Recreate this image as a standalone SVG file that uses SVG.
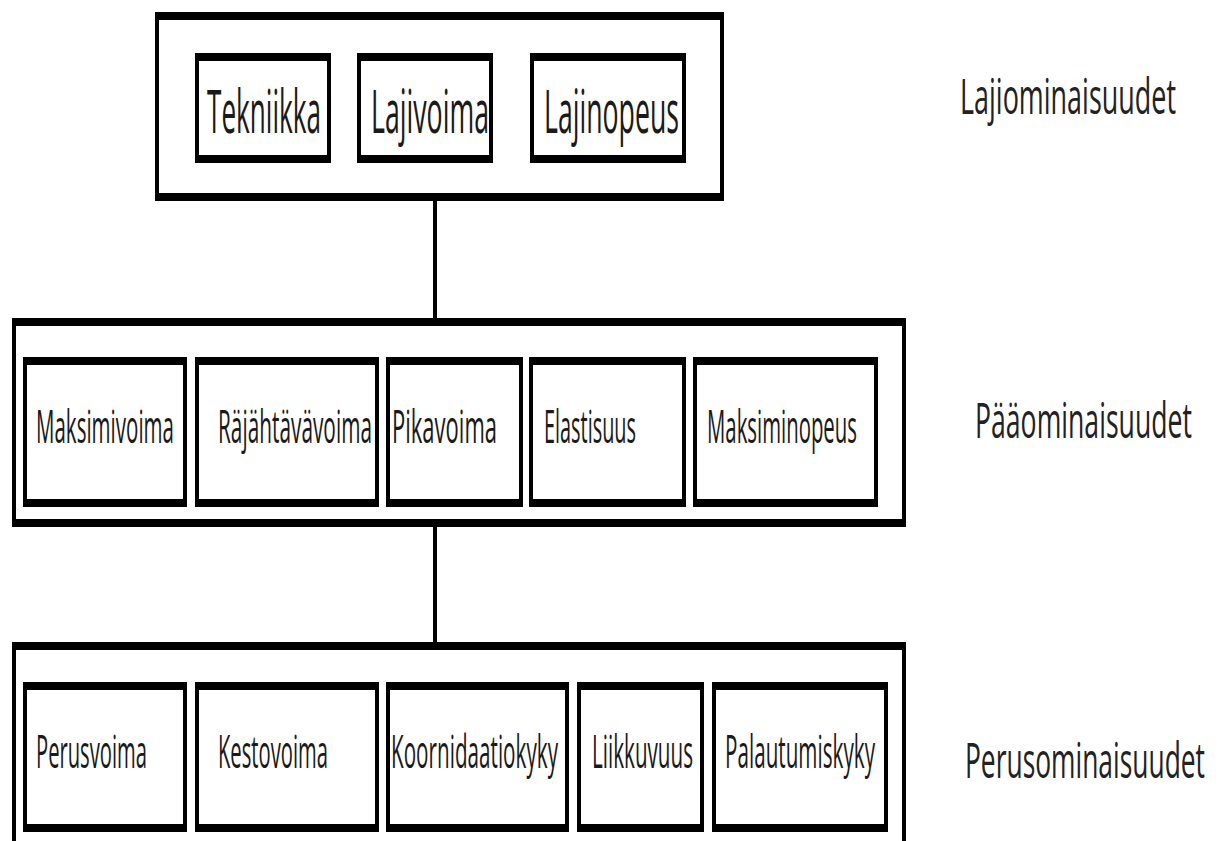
<svg xmlns="http://www.w3.org/2000/svg" width="1224" height="841" viewBox="0 0 1224 841">
<style>
.frame{fill:#000}
.fill{fill:#fff}
.t{font-family:"Open Sans","Liberation Sans",sans-serif;fill:#1a1a1a}
.r1{font-size:30px}
.r2{font-size:23px}
.lab{font-size:25px;fill:#222}
.con{stroke:#000;stroke-width:4;fill:none}
</style>
<rect width="1224" height="841" fill="#fff"/>
<g id="connectors">
<line class="con" x1="435" y1="200" x2="435" y2="319"/>
<line class="con" x1="435" y1="526" x2="435" y2="643"/>
</g>
<g id="lajiominaisuudet-box">
<rect class="frame" x="155" y="12" width="569" height="189"/>
<rect class="fill" x="159" y="20" width="561" height="173"/>
</g>
<g id="tekniikka">
<rect class="frame" x="195" y="53" width="136" height="110"/>
<rect class="fill" x="199" y="61" width="128" height="94"/>
<text class="t r1" transform="translate(207,133) scale(1,2)" textLength="114" lengthAdjust="spacingAndGlyphs">Tekniikka</text>
</g>
<g id="lajivoima">
<rect class="frame" x="357" y="53" width="136" height="110"/>
<rect class="fill" x="361" y="61" width="128" height="94"/>
<text class="t r1" transform="translate(371,133) scale(1,2)" textLength="118" lengthAdjust="spacingAndGlyphs">Lajivoima</text>
</g>
<g id="lajinopeus">
<rect class="frame" x="530" y="53" width="156" height="110"/>
<rect class="fill" x="534" y="61" width="148" height="94"/>
<text class="t r1" transform="translate(544,133) scale(1,2)" textLength="135" lengthAdjust="spacingAndGlyphs">Lajinopeus</text>
</g>
<g id="paaominaisuudet-box">
<rect class="frame" x="12" y="318" width="894" height="209"/>
<rect class="fill" x="16" y="326" width="886" height="193"/>
</g>
<g id="maksimivoima">
<rect class="frame" x="23" y="357" width="164" height="150"/>
<rect class="fill" x="27" y="365" width="156" height="134"/>
<text class="t r2" transform="translate(36,443) scale(1,2)" textLength="138" lengthAdjust="spacingAndGlyphs">Maksimivoima</text>
</g>
<g id="rajahtavavoima">
<rect class="frame" x="195" y="357" width="184" height="150"/>
<rect class="fill" x="199" y="365" width="176" height="134"/>
<text class="t r2" transform="translate(218,443) scale(1,2)" textLength="154" lengthAdjust="spacingAndGlyphs">Räjähtävävoima</text>
</g>
<g id="pikavoima">
<rect class="frame" x="386" y="357" width="137" height="150"/>
<rect class="fill" x="390" y="365" width="129" height="134"/>
<text class="t r2" transform="translate(392,443) scale(1,2)" textLength="105" lengthAdjust="spacingAndGlyphs">Pikavoima</text>
</g>
<g id="elastisuus">
<rect class="frame" x="529" y="357" width="157" height="150"/>
<rect class="fill" x="533" y="365" width="149" height="134"/>
<text class="t r2" transform="translate(544,443) scale(1,2)" textLength="92" lengthAdjust="spacingAndGlyphs">Elastisuus</text>
</g>
<g id="maksiminopeus">
<rect class="frame" x="693" y="357" width="185" height="150"/>
<rect class="fill" x="697" y="365" width="177" height="134"/>
<text class="t r2" transform="translate(707,443) scale(1,2)" textLength="150" lengthAdjust="spacingAndGlyphs">Maksiminopeus</text>
</g>
<g id="perusominaisuudet-box">
<rect class="frame" x="12" y="642" width="894" height="220"/>
<rect class="fill" x="16" y="650" width="886" height="220"/>
</g>
<g id="perusvoima">
<rect class="frame" x="23" y="682" width="164" height="150"/>
<rect class="fill" x="27" y="690" width="156" height="134"/>
<text class="t r2" transform="translate(36,768) scale(1,2)" textLength="111" lengthAdjust="spacingAndGlyphs">Perusvoima</text>
</g>
<g id="kestovoima">
<rect class="frame" x="195" y="682" width="184" height="150"/>
<rect class="fill" x="199" y="690" width="176" height="134"/>
<text class="t r2" transform="translate(218,768) scale(1,2)" textLength="110" lengthAdjust="spacingAndGlyphs">Kestovoima</text>
</g>
<g id="koornidaatiokyky">
<rect class="frame" x="386" y="682" width="183" height="150"/>
<rect class="fill" x="390" y="690" width="175" height="134"/>
<text class="t r2" transform="translate(391,768) scale(1,2)" textLength="167" lengthAdjust="spacingAndGlyphs">Koornidaatiokyky</text>
</g>
<g id="liikkuvuus">
<rect class="frame" x="577" y="682" width="127" height="150"/>
<rect class="fill" x="581" y="690" width="119" height="134"/>
<text class="t r2" transform="translate(592,768) scale(1,2)" textLength="101" lengthAdjust="spacingAndGlyphs">Liikkuvuus</text>
</g>
<g id="palautumiskyky">
<rect class="frame" x="712" y="682" width="176" height="150"/>
<rect class="fill" x="716" y="690" width="168" height="134"/>
<text class="t r2" transform="translate(725,768) scale(1,2)" textLength="150" lengthAdjust="spacingAndGlyphs">Palautumiskyky</text>
</g>
<g id="labels">
<text class="t lab" transform="translate(960,114) scale(1,2)" textLength="216" lengthAdjust="spacingAndGlyphs">Lajiominaisuudet</text>
<text class="t lab" transform="translate(975,438) scale(1,2)" textLength="217" lengthAdjust="spacingAndGlyphs">Pääominaisuudet</text>
<text class="t lab" transform="translate(965,778) scale(1,2)" textLength="240" lengthAdjust="spacingAndGlyphs">Perusominaisuudet</text>
</g>
</svg>
